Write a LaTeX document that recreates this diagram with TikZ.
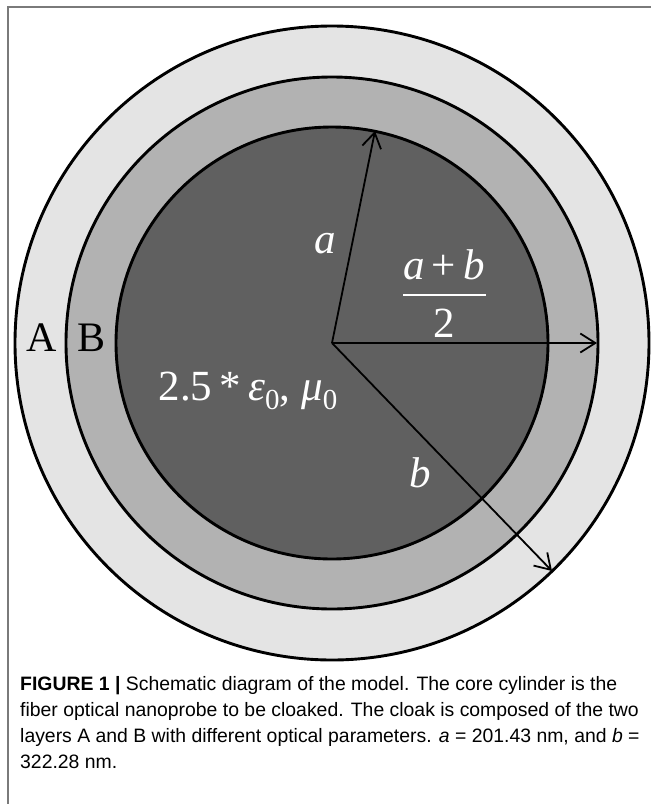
\documentclass[tikz,border=0pt]{standalone}
\usepackage{fontspec}
\setmainfont{Liberation Serif}
\newfontfamily\capfont{Liberation Sans}
\usetikzlibrary{arrows.meta}
\definecolor{coregray}{HTML}{606060}
\definecolor{layerB}{HTML}{B2B2B2}
\definecolor{layerA}{HTML}{E4E4E4}
\definecolor{framegray}{HTML}{7A7A7A}
\newcommand\lowsub[1]{\raisebox{-9pt}{\fontsize{29}{30}\selectfont #1}}
\tikzset{
  ring/.style={draw=black, line width=2.9pt},
  radius arrow/.style={draw=black, line width=1.8pt, -{Straight Barb[length=15pt,width=19pt,line width=1.8pt]}},
  core label/.style={text=white, font=\fontsize{43}{48}\selectfont, inner sep=0pt, anchor=base},
  layer label/.style={text=black, font=\fontsize{42}{48}\selectfont, inner sep=0pt, anchor=base},
}
\begin{document}
\begin{tikzpicture}[x=1pt,y=-1pt]
    \useasboundingbox (0,0) rectangle (651,804);
    \fill[white] (0,0) rectangle (651,804);
    % frame
    \draw[framegray, line width=2pt] (8,804) -- (8,7) -- (651,7);
    % layers A, B and the core
    \coordinate (O) at (332,343);
    \filldraw[ring, fill=layerA] (O) circle[radius=317pt];
    \filldraw[ring, fill=layerB] (O) circle[radius=266pt];
    \filldraw[ring, fill=coregray] (O) circle[radius=216pt];
    % radii
    \coordinate (ta) at (375,131);
    \coordinate (tm) at (597,343);
    \coordinate (tb) at (552,571);
    \draw[radius arrow] (O) -- (ta);
    \draw[radius arrow] (O) -- (tm);
    \draw[radius arrow] (O) -- (tb);
    % labels
    \node[layer label] (lA) at (42,351) {A};
    \node[layer label] (lB) at (92,351) {B};
    \node[core label] (la) at (325,253) {\itshape a};
    \node[core label] (lb) at (420,487) {\itshape b};
    \node[core label] (num) at (444,279) {{\itshape a}\,+\,{\itshape b}};
    \node[core label] (den) at (444,337) {2};
    \draw[white, line width=2pt] (403,295) -- (486,295);
    \node[core label] (lcore) at (248,400) {2.5\,*\,{\itshape ε}\lowsub{0}, {\itshape μ}\lowsub{0}};
    % caption
    \node[anchor=north west, align=left, inner sep=0pt, font=\capfont\fontsize{19.4}{26}\selectfont] (cap) at (20,676)
      {\textbf{FIGURE 1 |} Schematic diagram of the model. The core cylinder is the\\
       fiber optical nanoprobe to be cloaked. The cloak is composed of the two\\
       layers A and B with different optical parameters. \textit{a} = 201.43 nm, and \textit{b} =\\
       322.28 nm.};
\end{tikzpicture}
\end{document}
